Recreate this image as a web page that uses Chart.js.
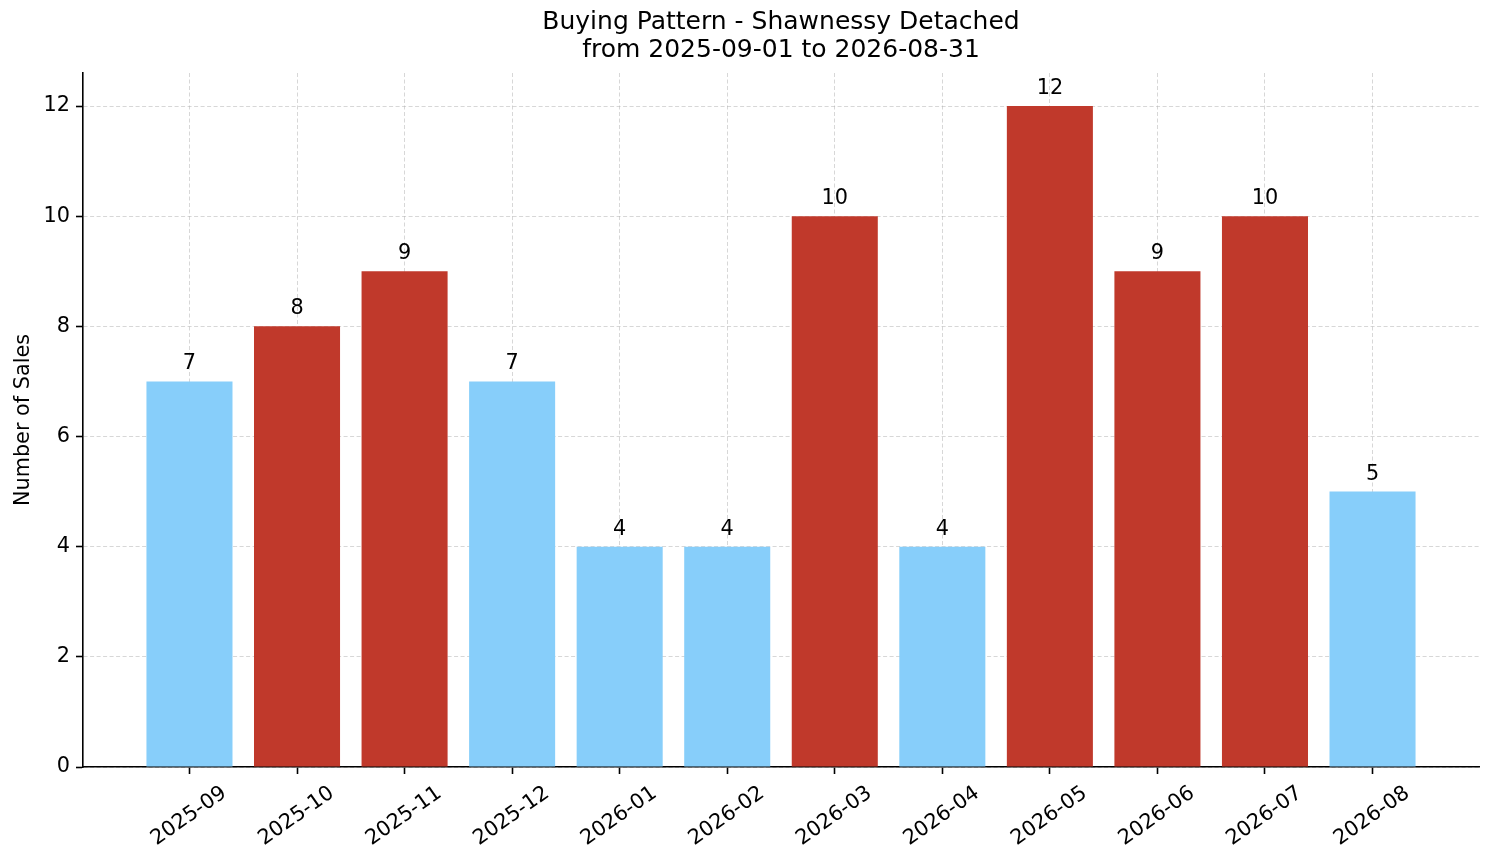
<!DOCTYPE html>
<html>
<head>
<meta charset="utf-8">
<title>Buying Pattern - Shawnessy Detached</title>
<script src="https://cdn.jsdelivr.net/npm/chart.js@4"></script>
<style>
  html, body { margin: 0; padding: 0; background: #ffffff; }
  canvas { display: block; }
</style>
</head>
<body>
<canvas id="salesChart" width="1494" height="863"></canvas>
<script>
// Monthly sales counts
const months = ['2025-09', '2025-10', '2025-11', '2025-12', '2026-01', '2026-02',
                '2026-03', '2026-04', '2026-05', '2026-06', '2026-07', '2026-08'];
const sales = [7, 8, 9, 7, 4, 4, 10, 4, 12, 9, 10, 5];
const yTicks = [0, 2, 4, 6, 8, 10, 12];
const titleLines = ['Buying Pattern - Shawnessy Detached', 'from 2025-09-01 to 2026-08-31'];

const FONT = "'DejaVu Sans', sans-serif";
const HOT = '#c0392b';   // months above the average
const COOL = '#87cefa';  // months at or below the average

const avg = sales.reduce((a, b) => a + b, 0) / sales.length;
const barColors = sales.map(v => v > avg ? HOT : COOL);

// Draw the count above every bar
const valueLabels = {
  id: 'valueLabels',
  afterDatasetsDraw(chart) {
    const ctx = chart.ctx;
    const meta = chart.getDatasetMeta(0);
    ctx.save();
    ctx.font = '20.8px ' + FONT;
    ctx.fillStyle = '#000000';
    ctx.textAlign = 'center';
    ctx.textBaseline = 'alphabetic';
    meta.data.forEach((bar, i) => {
      ctx.fillText(String(sales[i]), bar.x, bar.y - 12);
    });
    ctx.restore();
  }
};

const gridStyle = {
  color: 'rgba(176, 176, 176, 0.5)',
  lineWidth: 1,
  drawTicks: true,
  tickLength: 7,
  tickColor: '#000000',
  tickWidth: 1.6,
  offset: false
};

new Chart(document.getElementById('salesChart'), {
  type: 'bar',
  data: {
    datasets: [{
      data: sales.map((v, i) => ({ x: i, y: v })),
      backgroundColor: barColors,
      borderWidth: 0,
      barPercentage: 0.8,
      categoryPercentage: 1.0
    }]
  },
  options: {
    responsive: false,
    devicePixelRatio: 1,
    animation: false,
    layout: { padding: { left: 0, right: 15, top: 0, bottom: 0 } },
    plugins: {
      legend: { display: false },
      tooltip: { enabled: false },
      title: {
        display: true,
        fullSize: false,
        text: titleLines,
        color: '#000000',
        font: { family: FONT, size: 25, weight: 'normal', lineHeight: 1.12 },
        padding: { top: 8, bottom: 9 }
      }
    },
    scales: {
      x: {
        type: 'linear',
        min: -0.99,
        max: 11.99,
        offset: false,
        z: 1,
        grid: gridStyle,
        border: { display: true, color: '#000000', width: 1.6, dash: [4, 2.5] },
        afterBuildTicks: scale => {
          scale.ticks = months.map((_, i) => ({ value: i }));
        },
        afterFit: scale => { scale.height = 96; },
        ticks: {
          autoSkip: false,
          minRotation: 35,
          maxRotation: 35,
          labelOffset: 35,
          padding: 7,
          color: '#000000',
          font: { family: FONT, size: 20.8 },
          callback: value => months[value]
        }
      },
      y: {
        min: 0,
        max: 12.6,
        z: 1,
        grid: gridStyle,
        border: { display: true, color: '#000000', width: 1.6, dash: [4, 2.5] },
        afterBuildTicks: scale => {
          scale.ticks = yTicks.map(v => ({ value: v }));
        },
        afterFit: scale => { scale.width = 83; },
        ticks: {
          includeBounds: false,
          padding: 6,
          color: '#000000',
          font: { family: FONT, size: 20.8 }
        },
        title: {
          display: true,
          text: 'Number of Sales',
          color: '#000000',
          font: { family: FONT, size: 20.8 },
          padding: { top: 11, bottom: 0 }
        }
      }
    }
  },
  plugins: [valueLabels]
});
</script>
</body>
</html>
